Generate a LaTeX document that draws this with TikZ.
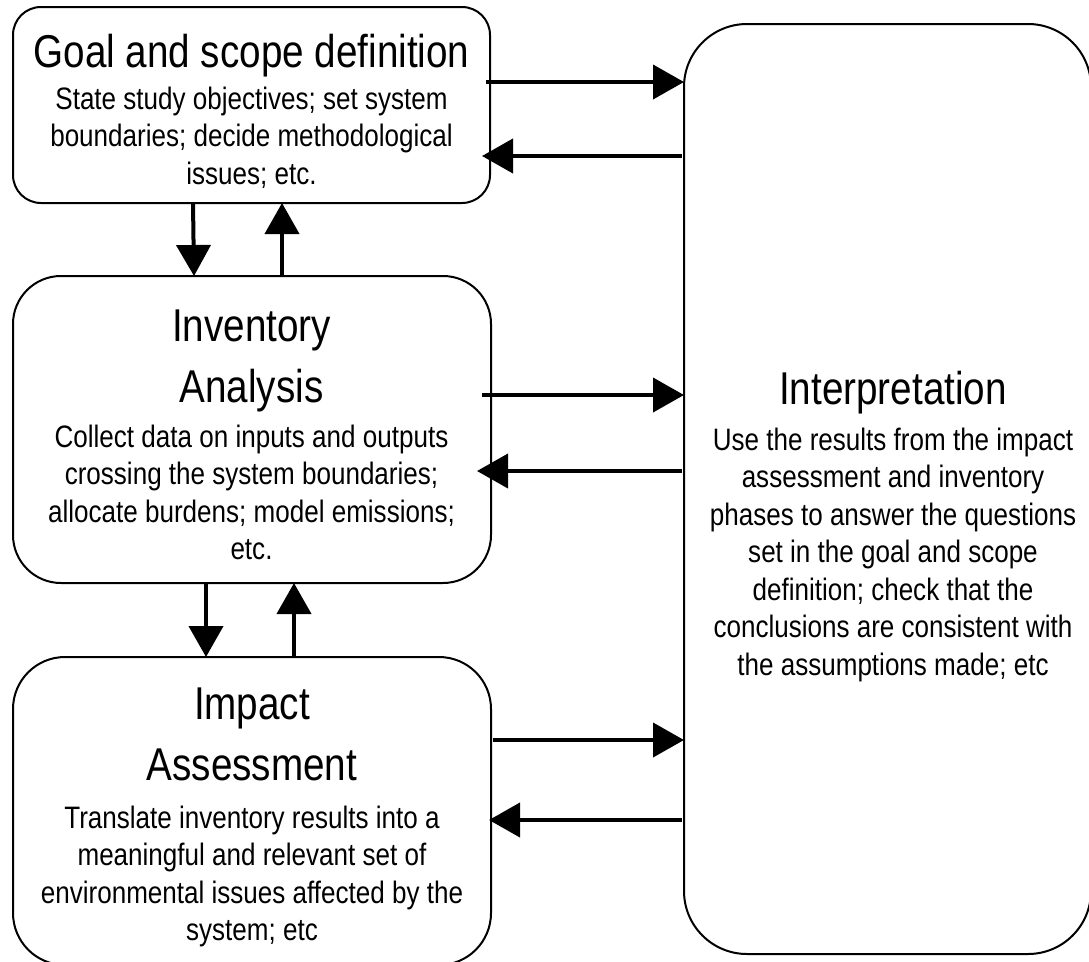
\documentclass[tikz,border=0pt]{standalone}
\usepackage{fontspec}
\setmainfont{Liberation Sans}[FakeStretch=0.84]
\usetikzlibrary{arrows.meta,calc}
\tikzset{
  box/.style={draw, line width=2pt, inner sep=0pt, outer sep=0pt},
  ttl/.style={font=\fontsize{46}{61}\selectfont, align=center, inner sep=0pt, anchor=base},
  bodytext/.style={font=\fontsize{31}{37.5}\selectfont, align=center, inner sep=0pt, anchor=base},
  arr/.style={line width=4pt, -{Triangle[length=31pt,width=34pt]}},
}
\begin{document}
\begin{tikzpicture}[x=1pt,y=-1pt]
\useasboundingbox (0,0) rectangle (1089,961);
% boxes
\node[box, rounded corners=28pt, minimum width=477pt, minimum height=196pt] (goal) at (251.5,105) {};
\node[box, rounded corners=48pt, minimum width=478pt, minimum height=307pt] (inv) at (252,429.5) {};
\node[box, rounded corners=52pt, minimum width=478pt, minimum height=308pt] (imp) at (252,811) {};
\node[box, rounded corners=63pt, minimum width=407pt, minimum height=930pt] (interp) at (887.5,489) {};
% texts (base anchor = baseline of the last line)
\node[ttl] (goalT) at (251.5,67) {Goal and scope definition};
\node[bodytext] (goalB) at (251.5,184) {State study objectives; set system\\boundaries; decide methodological\\issues; etc.};
\node[ttl] (invT) at (251.5,402) {Inventory\\Analysis};
\node[bodytext] (invB) at (251.5,559.5) {Collect data on inputs and outputs\\crossing the system boundaries;\\allocate burdens; model emissions;\\etc.};
\node[ttl] (impT) at (252,780) {Impact\\Assessment};
\node[bodytext] (impB) at (252,940.5) {Translate inventory results into a\\meaningful and relevant set of\\environmental issues affected by the\\system; etc};
\node[ttl] (intT) at (893,404) {Interpretation};
\node[bodytext] (intB) at (893,675) {Use the results from the impact\\assessment and inventory\\phases to answer the questions\\set in the goal and scope\\definition; check that the\\conclusions are consistent with\\the assumptions made; etc};
% connectors
\draw[arr] ($(goal.east |- 0,82)+(-4,0)$) -- (interp.west |- 0,82);
\draw[arr] ($(interp.west |- 0,156)+(-2,0)$) -- ($(goal.east |- 0,156)+(-8,0)$);
\draw[arr] (goal.south -| 193,0) -- (inv.north -| 194,0);
\draw[arr] (inv.north -| 282,0) -- (goal.south -| 282,0);
\draw[arr] ($(inv.east |- 0,395)+(-9,0)$) -- (interp.west |- 0,395);
\draw[arr] ($(interp.west |- 0,471)+(-2,0)$) -- ($(inv.east |- 0,471)+(-14,0)$);
\draw[arr] (inv.south -| 206,0) -- (imp.north -| 206,0);
\draw[arr] (imp.north -| 294,0) -- (inv.south -| 294,0);
\draw[arr] ($(imp.east |- 0,740)+(2,0)$) -- (interp.west |- 0,740);
\draw[arr] ($(interp.west |- 0,820)+(-2,0)$) -- ($(imp.east |- 0,820)+(-2,0)$);
\end{tikzpicture}
\end{document}
